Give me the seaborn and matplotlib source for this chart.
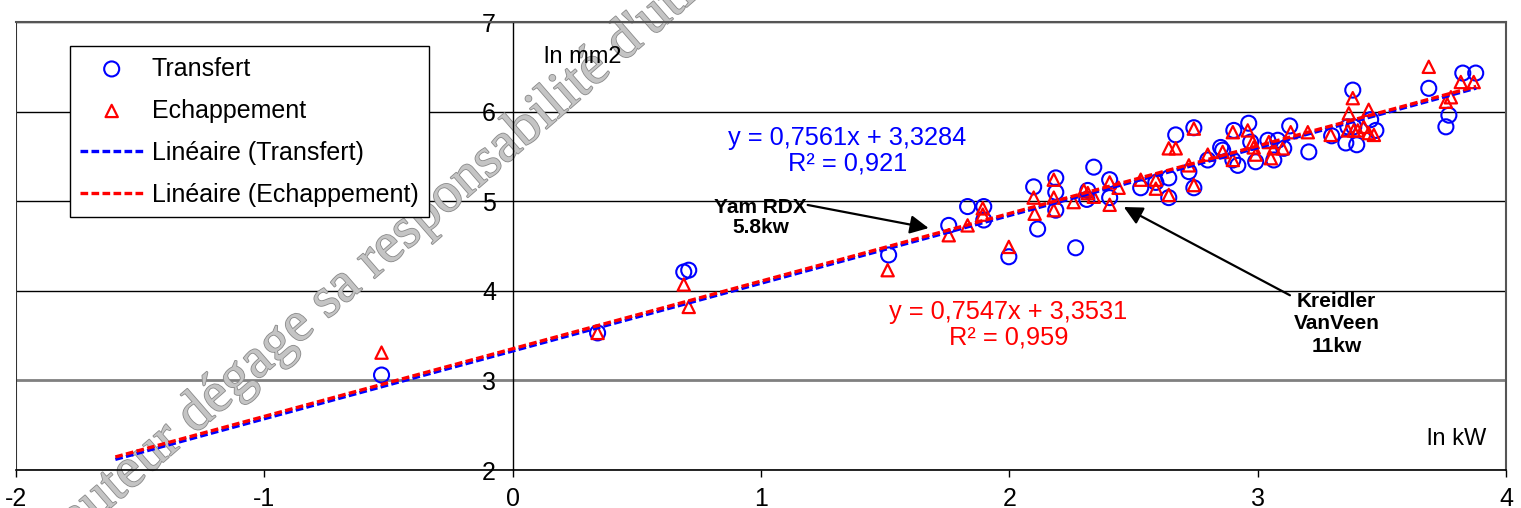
import numpy as np
import matplotlib
matplotlib.use("Agg")
import matplotlib.pyplot as plt
import matplotlib.patheffects as pe
import seaborn as sns

sns.set_theme(style="white")
plt.rcParams['font.family'] = ['Liberation Sans', 'DejaVu Sans']
plt.rcParams['axes.unicode_minus'] = False
plt.rcParams['text.color'] = 'black'
plt.rcParams['xtick.color'] = 'black'
plt.rcParams['ytick.color'] = 'black'
plt.rcParams['legend.labelcolor'] = 'black'

# ---- data (ln kW, ln mm2) ----
transfert_x = [-0.528, 0.342, 0.689, 0.709, 1.514, 1.756, 1.832, 1.897, 1.897, 1.998,
               2.098, 2.114, 2.187, 2.187, 2.187, 2.267, 2.340, 2.316, 2.312, 2.404,
               2.404, 2.529, 2.590, 2.642, 2.642, 2.670, 2.723, 2.743, 2.743, 2.799,
               2.851, 2.859, 2.900, 2.920, 2.904, 2.964, 2.972, 2.992, 3.041, 3.065,
               3.081, 3.129, 3.105, 3.206, 3.298, 3.355, 3.399, 3.383, 3.363, 3.387,
               3.455, 3.476, 3.689, 3.770, 3.758, 3.826, 3.878]
transfert_y = [3.06, 3.53, 4.21, 4.23, 4.40, 4.73, 4.94, 4.94, 4.79, 4.38,
               5.16, 4.69, 5.26, 5.10, 4.90, 4.48, 5.38, 5.12, 5.02, 5.24,
               5.04, 5.15, 5.21, 5.26, 5.04, 5.74, 5.33, 5.15, 5.82, 5.46,
               5.60, 5.57, 5.46, 5.40, 5.79, 5.87, 5.66, 5.44, 5.68, 5.46,
               5.68, 5.84, 5.59, 5.55, 5.73, 5.65, 5.63, 6.24, 5.83, 5.83,
               5.91, 5.79, 6.26, 5.96, 5.83, 6.43, 6.43]

echap_x = [-0.528, 0.342, 0.689, 0.709, 1.510, 1.756, 1.832, 1.893, 1.893, 1.998,
           2.098, 2.102, 2.179, 2.179, 2.179, 2.259, 2.300, 2.316, 2.340, 2.404,
           2.404, 2.440, 2.529, 2.590, 2.590, 2.642, 2.642, 2.670, 2.723, 2.743,
           2.743, 2.799, 2.859, 2.900, 2.900, 2.960, 2.980, 2.984, 2.992, 3.045,
           3.053, 3.065, 3.101, 3.133, 3.202, 3.294, 3.367, 3.383, 3.387, 3.689,
           3.447, 3.363, 3.403, 3.427, 3.447, 3.468, 3.758, 3.778, 3.818, 3.870]
echap_y = [3.31, 3.53, 4.07, 3.82, 4.23, 4.62, 4.73, 4.92, 4.85, 4.49,
           5.04, 4.86, 5.24, 5.04, 4.90, 4.99, 5.12, 5.09, 5.05, 5.21,
           4.96, 5.15, 5.24, 5.24, 5.14, 5.07, 5.59, 5.59, 5.40, 5.18,
           5.81, 5.52, 5.55, 5.46, 5.77, 5.79, 5.66, 5.60, 5.52, 5.66,
           5.48, 5.59, 5.59, 5.77, 5.77, 5.74, 5.98, 6.15, 5.79, 6.50,
           6.02, 5.79, 5.79, 5.83, 5.76, 5.74, 6.11, 6.16, 6.33, 6.33]

# trendlines as printed on the chart
trend_range = [-1.6, 3.88]
slope_transfert, intercept_transfert = 0.7561, 3.3284
slope_echap, intercept_echap = 0.7547, 3.3531

BLUE = '#0000ff'
RED = '#ff0000'

fig = plt.figure(figsize=(15.21, 5.08), dpi=100)
ax = fig.add_axes([16 / 1521, 38 / 508, 1490 / 1521, 448 / 508])

sns.scatterplot(x=transfert_x, y=transfert_y, marker='o', s=117, facecolor='none',
                edgecolor=BLUE, linewidth=1.5, label='Transfert', ax=ax, zorder=3)
sns.scatterplot(x=echap_x, y=echap_y, marker='^', s=78, facecolor='none',
                edgecolor=RED, linewidth=1.6, label='Echappement', ax=ax, zorder=3)

tx = np.array(trend_range)
sns.lineplot(x=tx, y=slope_transfert * tx + intercept_transfert, color=BLUE, lw=2.4,
             linestyle=(0, (2.3, 1.0)), label='Linéaire (Transfert)', ax=ax, zorder=4)
sns.lineplot(x=tx, y=slope_echap * tx + intercept_echap, color=RED, lw=2.4,
             linestyle=(0, (2.3, 1.0)), label='Linéaire (Echappement)', ax=ax, zorder=4)

ax.set_xlim(-2, 4)
ax.set_ylim(2, 7)
ax.set_xticks(range(-2, 5))
ax.set_yticks(range(2, 8))

# axes frame: y axis crosses at x = 0
ax.spines['left'].set_position(('data', 0))
ax.spines['left'].set_color('black')
ax.spines['left'].set_linewidth(1)
ax.spines['bottom'].set_color('black')
ax.spines['bottom'].set_linewidth(1.2)
for s in ['top', 'right']:
    ax.spines[s].set_color('#555555')
    ax.spines[s].set_linewidth(1.5)
ax.axvline(-2, color='#333333', lw=1.5, zorder=1)

ax.grid(axis='y', color='black', lw=1)
ax.set_axisbelow(True)
for gl, v in zip(ax.get_ygridlines(), ax.get_yticks()):
    if v == 3:
        gl.set_color('#808080')
        gl.set_linewidth(2)

ax.tick_params(axis='x', direction='out', length=5, width=1, color='black',
               pad=7, labelsize=18, bottom=True, labelcolor='black')
ax.tick_params(axis='y', length=0, pad=12, labelsize=18, labelcolor='black')
ax.set_xlabel('')
ax.set_ylabel('')

# axis names
ax.text(0.125, 6.61, 'ln mm2', fontsize=17, ha='left', va='center')
ax.text(3.92, 2.35, 'ln kW', fontsize=17, ha='right', va='center')

# equations
ax.text(1.347, 5.56, 'y = 0,7561x + 3,3284\nR² = 0,921', color=BLUE, fontsize=18.3,
        ha='center', va='center', multialignment='center', linespacing=1.1)
ax.text(1.996, 3.62, 'y = 0,7547x + 3,3531\nR² = 0,959', color=RED, fontsize=18.3,
        ha='center', va='center', multialignment='center', linespacing=1.1)

# annotations
ax.text(0.999, 4.82, 'Yam RDX\n5.8kw', fontsize=15, fontweight='bold',
        ha='center', va='center', multialignment='center', linespacing=1.05)
ax.annotate('', xy=(1.675, 4.70), xytext=(1.188, 4.958),
            arrowprops=dict(arrowstyle='-|>', color='black', lw=1.6, mutation_scale=28,
                            shrinkA=0, shrinkB=0))
ax.text(3.318, 3.63, 'Kreidler\nVanVeen\n11kw', fontsize=15, fontweight='bold',
        ha='center', va='center', multialignment='center', linespacing=1.22)
ax.annotate('', xy=(2.461, 4.935), xytext=(3.13, 3.95),
            arrowprops=dict(arrowstyle='-|>', color='black', lw=1.6, mutation_scale=28,
                            shrinkA=0, shrinkB=0))

# legend
h, l = ax.get_legend_handles_labels()
order = ['Transfert', 'Echappement', 'Linéaire (Transfert)', 'Linéaire (Echappement)']
hd = dict(zip(l, h))
leg = ax.legend([hd[k] for k in order], order, loc='upper left',
                bbox_to_anchor=(0.0362, 0.9464), borderaxespad=0, fontsize=18,
                handlelength=2.5, handletextpad=0.36, labelspacing=0.72, borderpad=0.42,
                frameon=True, fancybox=False, framealpha=1, edgecolor='black',
                scatterpoints=1)
leg.get_frame().set_linewidth(1)
leg.set_zorder(6)

# watermark
ax.text(0.028, -0.116, "L'auteur dégage sa responsabilité d'utilisation",
        transform=fig.transFigure, fontsize=41, family=['Liberation Serif', 'DejaVu Serif'],
        rotation=41, rotation_mode='anchor', ha='left', va='baseline',
        color='#c4c4c4', clip_on=False, zorder=1.5,
        path_effects=[pe.withStroke(linewidth=1.2, foreground='#8a8a8a')])

fig.savefig('out.png', dpi=100)
